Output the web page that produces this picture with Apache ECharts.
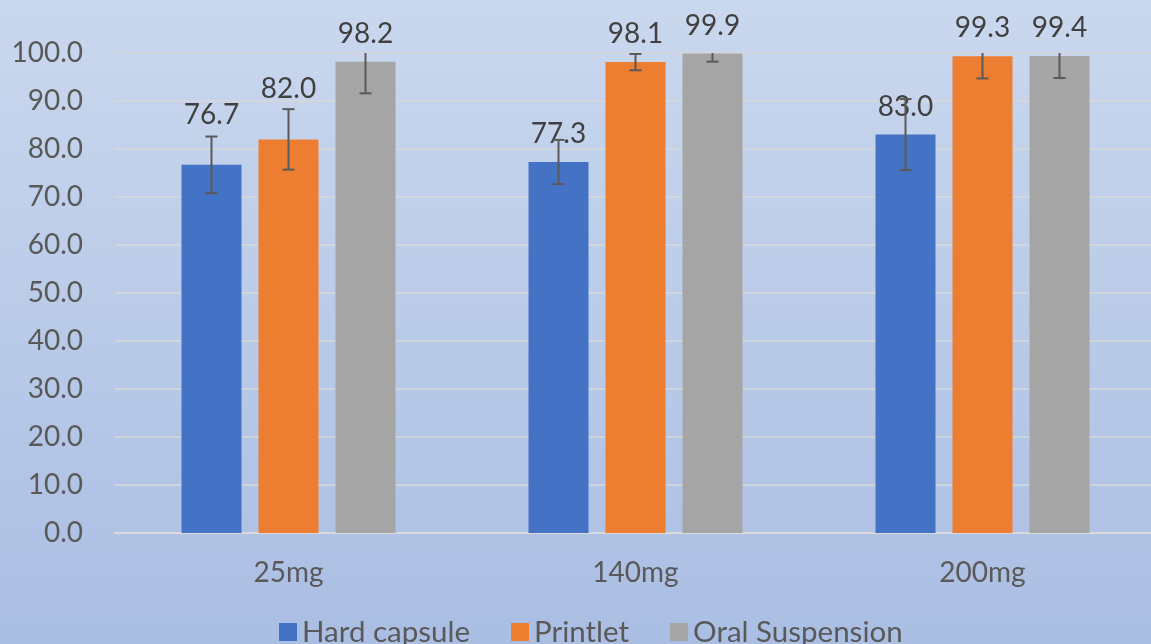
<!DOCTYPE html>
<html lang="en">
<head>
  <meta charset="UTF-8">
  <title>Bioavailability by dose</title>
  <style>
    html, body { margin: 0; padding: 0; overflow: hidden; }
    /* plot area runs slightly past the right edge in the original */
    #main { width: 1156px; height: 644px; }
  </style>
</head>
<body>
  <script src="https://cdn.jsdelivr.net/npm/echarts@6/dist/echarts.min.js"></script>
  <div id="main"></div>
  <script type="text/javascript">
    // categories and series
    var doses = ['25mg', '140mg', '200mg'];
    var seriesNames = ['Hard capsule', 'Printlet', 'Oral Suspension'];
    var hardCapsule = [76.7, 77.3, 83.0];
    var printlet = [82.0, 98.1, 99.3];
    var oralSuspension = [98.2, 99.9, 99.4];
    // error (+/-) for each bar
    var hardCapsuleErr = [5.9, 4.6, 7.4];
    var printletErr = [6.3, 1.7, 4.6];
    var oralSuspensionErr = [6.6, 1.7, 4.6];
    var yTicks = [0, 10, 20, 30, 40, 50, 60, 70, 80, 90, 100];

    var values = [hardCapsule, printlet, oralSuspension];
    var errors = [hardCapsuleErr, printletErr, oralSuspensionErr];
    var colors = ['#4472C4', '#ED7D31', '#A5A5A5'];

    var BAR_W = 60, BAR_GAP = 17;
    var FONT = 'Lato, "Open Sans", sans-serif';
    var LABEL_DIST = 14;
    // labels that sit higher in the original
    var liftedLabels = { '0-0': 22, '1-0': 22 };

    var myChart = echarts.init(document.getElementById('main'));

    var series = [];
    values.forEach(function (vals, s) {
      series.push({
        name: seriesNames[s],
        type: 'bar',
        barWidth: BAR_W,
        barGap: (BAR_GAP / BAR_W * 100) + '%',
        itemStyle: { color: colors[s] },
        data: vals.map(function (v, i) {
          var lift = liftedLabels[s + '-' + i] || 0;
          return { value: v, label: { distance: LABEL_DIST + lift } };
        }),
        label: {
          show: true,
          position: 'top',
          distance: LABEL_DIST,
          color: '#404040',
          fontSize: 28,
          fontFamily: FONT,
          formatter: function (p) { return p.value.toFixed(1); }
        },
        z: 2
      });
    });

    // error bars
    var errData = [];
    values.forEach(function (vals, s) {
      vals.forEach(function (v, i) {
        errData.push([i, s, v - errors[s][i], v + errors[s][i]]);
      });
    });
    series.push({
      type: 'custom',
      name: 'err',
      clip: true,
      z: 3,
      silent: true,
      data: errData,
      encode: { x: 0, y: [2, 3] },
      renderItem: function (params, api) {
        var off = (api.value(1) - 1) * (BAR_W + BAR_GAP);
        var lo = api.coord([api.value(0), api.value(2)]);
        var hi = api.coord([api.value(0), api.value(3)]);
        var x = lo[0] + off;
        var cap = 6;
        var style = { stroke: '#595959', lineWidth: 2 };
        return {
          type: 'group',
          children: [
            { type: 'line', shape: { x1: x, y1: lo[1], x2: x, y2: hi[1] }, style: style },
            { type: 'line', shape: { x1: x - cap, y1: lo[1], x2: x + cap, y2: lo[1] }, style: style },
            { type: 'line', shape: { x1: x - cap, y1: hi[1], x2: x + cap, y2: hi[1] }, style: style }
          ]
        };
      }
    });

    var option = {
      backgroundColor: new echarts.graphic.LinearGradient(0, 0, 0, 1, [
        { offset: 0, color: '#cad8ee' },
        { offset: 1, color: '#aabee3' }
      ]),
      animation: false,
      grid: { left: 115, right: 0, top: 53, bottom: 111 },
      legend: {
        data: seriesNames,
        left: 279,
        top: 617,
        padding: 0,
        itemWidth: 18,
        itemHeight: 18,
        itemGap: 41,
        icon: 'rect',
        textStyle: { color: '#595959', fontSize: 29.5, fontFamily: FONT }
      },
      xAxis: {
        type: 'category',
        data: doses,
        axisLine: { lineStyle: { color: '#d9d9d9', width: 2 } },
        axisTick: { show: false },
        axisLabel: { color: '#595959', fontSize: 28, fontFamily: FONT, margin: 26 }
      },
      yAxis: {
        type: 'value',
        min: yTicks[0],
        max: yTicks[yTicks.length - 1],
        interval: yTicks[1] - yTicks[0],
        axisLine: { show: false },
        axisTick: { show: false },
        splitLine: { lineStyle: { color: '#d9d9d9', width: 1.5 } },
        axisLabel: {
          color: '#595959', fontSize: 28, fontFamily: FONT, margin: 32,
          formatter: function (v) { return v.toFixed(1); }
        }
      },
      series: series
    };

    myChart.setOption(option);
  </script>
</body>
</html>
